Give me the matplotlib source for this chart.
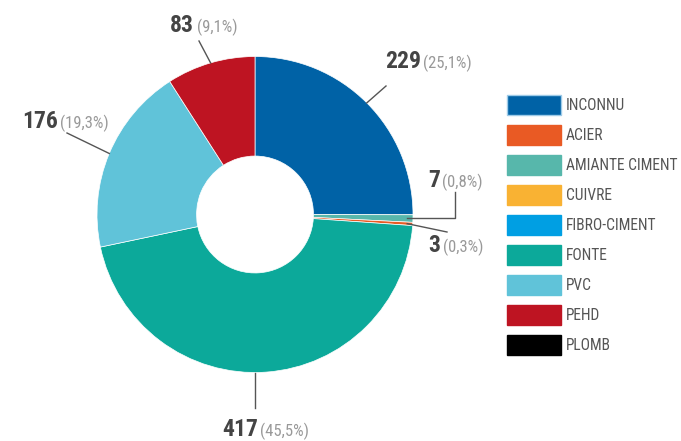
import numpy as np
import matplotlib
matplotlib.use("Agg")
import matplotlib.pyplot as plt
from matplotlib.patches import Rectangle
from matplotlib import font_manager

# pick a narrow font if one is installed
fl = font_manager.fontManager.ttflist
names = set(f.name for f in fl)
FONT, STRETCH = "DejaVu Sans", "normal"
for cand in ["Liberation Sans Narrow", "Roboto Condensed", "Open Sans Condensed"]:
    if cand in names:
        FONT = cand
        break
else:
    if any(f.name == "DejaVu Sans" and f.stretch == "condensed" for f in fl):
        STRETCH = "condensed"
plt.rcParams["font.family"] = FONT
plt.rcParams["font.stretch"] = STRETCH

W, H = 681, 441

# --- data -------------------------------------------------------
legend_labels = ["INCONNU", "ACIER", "AMIANTE CIMENT", "CUIVRE", "FIBRO-CIMENT",
                 "FONTE", "PVC", "PEHD", "PLOMB"]
legend_colors = ["#0062a6", "#e95a24", "#57b7ab", "#f9b233", "#009fe3",
                 "#0ca99a", "#60c3d9", "#be1422", "#000000"]

# wedges in drawing order (clockwise from top)
pie_labels = ["INCONNU", "AMIANTE CIMENT", "ACIER", "FONTE", "PVC", "PEHD"]
pie_values = [229, 7, 3, 417, 176, 83]
pie_pcts = ["(25,1%)", "(0,8%)", "(0,3%)", "(45,5%)", "(19,3%)", "(9,1%)"]

# label text position (left, baseline) in pixels from top-left + leader end
label_pos = {
    "INCONNU": ((385, 68), (386, 86)),
    "AMIANTE CIMENT": ((428, 187), (455, 192)),
    "ACIER": ((428, 252), (447, 232)),
    "FONTE": ((222, 436), (255, 408)),
    "PVC": ((22, 128), (67, 133)),
    "PEHD": ((170, 32), (199, 41)),
}

fig = plt.figure(figsize=(W / 100, H / 100), dpi=100)
ax = fig.add_axes([0, 0, 1, 1])

R = 158
cx, cy = 255, H - 214.5
colors = [legend_colors[legend_labels.index(l)] for l in pie_labels]
wedges, _ = ax.pie(pie_values, colors=colors, startangle=90, counterclock=False,
                   radius=R, center=(cx, cy),
                   wedgeprops=dict(width=R * 0.63, edgecolor="white", linewidth=0.5))
ax.set_xlim(0, W)
ax.set_ylim(0, H)
ax.set_aspect("equal")
ax.axis("off")

small = STRETCH == "normal" and FONT == "DejaVu Sans"
num_size = 16 if small else 17
pct_size = 10.5 if small else 12
leg_size = 10.5 if small else 11.2

LC = "#555555"
nums = []
for w, lab, val, pct in zip(wedges, pie_labels, pie_values, pie_pcts):
    (tx, ty), (ex, ey) = label_pos[lab]
    ang = np.deg2rad((w.theta1 + w.theta2) / 2)
    if lab == "FONTE":
        ang = np.deg2rad(270)
    r = R if val > 20 else R * 0.965
    ax_, ay_ = cx + r * np.cos(ang), cy + r * np.sin(ang)
    if lab == "AMIANTE CIMENT":
        ax.plot([ax_, ex, ex], [ay_, ay_, H - ey], color=LC, lw=1)
    else:
        ax.plot([ax_, ex], [ay_, H - ey], color=LC, lw=1)
    t = ax.text(tx, H - ty, str(val), fontsize=num_size, fontweight="bold",
                color="#444444", va="baseline", ha="left")
    nums.append((t, pct, H - ty))

# percent text right after the number, same baseline
fig.canvas.draw()
rend = fig.canvas.get_renderer()
for t, pct, by in nums:
    bb = t.get_window_extent(rend).transformed(ax.transData.inverted())
    ax.text(bb.x1 + 2.5, by, pct, fontsize=pct_size, color="#999999",
            va="baseline", ha="left")

# legend
for i, (lab, col) in enumerate(zip(legend_labels, legend_colors)):
    top = 95 + 30 * i
    ec = "#9ecbe8" if i == 0 else col
    ax.add_patch(Rectangle((507, H - top - 20), 54, 20, facecolor=col,
                           edgecolor=ec, lw=1))
    ax.text(566, H - top - 10, lab, fontsize=leg_size, color="#555555",
            va="center", ha="left")

fig.savefig("out.png", dpi=100)
